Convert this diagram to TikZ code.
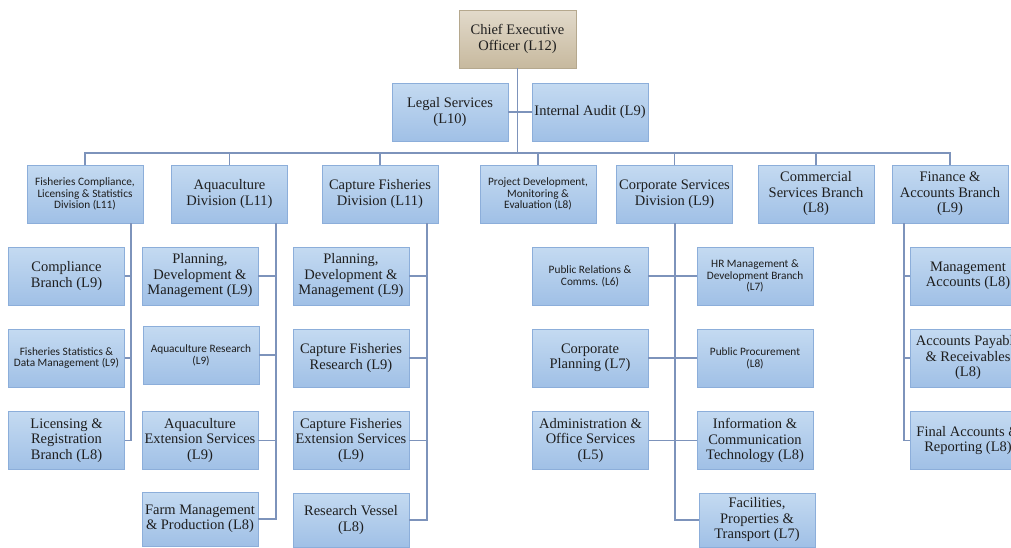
\documentclass[tikz,border=0pt]{standalone}
\usepackage{fontspec}
\setmainfont{Liberation Serif}
\newfontfamily\calfont{Carlito}
\definecolor{boxtop}{HTML}{C4DAF1}
\definecolor{boxbot}{HTML}{A0C0E6}
\definecolor{boxedge}{HTML}{8CAEDA}
\definecolor{ceotop}{HTML}{E2DACB}
\definecolor{ceobot}{HTML}{C7B99E}
\definecolor{ceoedge}{HTML}{B5A88E}
\definecolor{linkc}{HTML}{7D93BB}
\definecolor{ink}{HTML}{1E1E1E}
\begin{document}
\begin{tikzpicture}[x=1pt,y=-1pt,
  unit/.style={rectangle, draw=boxedge, line width=0.8pt, top color=boxtop,
    bottom color=boxbot, minimum width=116pt, minimum height=58pt,
    inner sep=1pt, align=center, text=ink,
    font=\fontsize{14.5}{15.5}\selectfont},
  small/.style={font=\calfont\fontsize{11.3}{11.8}\selectfont},
  lastrow/.style={minimum height=54pt},
  chief/.style={draw=ceoedge, top color=ceotop, bottom color=ceobot},
  link/.style={draw=linkc, line width=1.3pt}]
\useasboundingbox (0,0) rectangle (1011,547);
\clip (0,0) rectangle (1011,547);

% top of the chart
\node[unit, chief, minimum width=117pt] (ceo) at (517.5,39) {Chief Executive\\Officer (L12)};
\node[unit] (legal) at (450,112) {Legal Services\\(L10)};
\node[unit] (audit) at (590,112) {Internal Audit (L9)};

% divisions and branches
\node[unit, small] (fcl) at (85,194) {Fisheries Compliance,\\Licensing \& Statistics\\Division (L11)};
\node[unit] (aqua) at (229.5,194) {Aquaculture\\Division (L11)};
\node[unit] (cap) at (380,194) {Capture Fisheries\\Division (L11)};
\node[unit, small] (proj) at (538,194) {Project Development,\\Monitoring \&\\Evaluation (L8)};
\node[unit] (corp) at (674.5,194) {Corporate Services\\Division (L9)};
\node[unit] (comm) at (816,194) {Commercial\\Services Branch\\(L8)};
\node[unit] (fin) at (950,194) {Finance \&\\Accounts Branch\\(L9)};

% fisheries compliance units
\node[unit] (cbr) at (66.5,276) {Compliance\\Branch (L9)};
\node[unit, small] (fsd) at (66.5,358) {Fisheries Statistics \&\\Data Management (L9)};
\node[unit] (lrb) at (66.5,440.5) {Licensing \&\\Registration\\Branch (L8)};

% aquaculture units
\node[unit] (apdm) at (200,276) {Planning,\\Development \&\\Management (L9)};
\node[unit, small] (ares) at (201,355) {Aquaculture Research\\(L9)};
\node[unit] (aext) at (200,440.5) {Aquaculture\\Extension Services\\(L9)};
\node[unit, lastrow] (farm) at (200,519) {Farm Management\\\& Production (L8)};

% capture fisheries units
\node[unit] (cpdm) at (351,276) {Planning,\\Development \&\\Management (L9)};
\node[unit] (cres) at (351,358) {Capture Fisheries\\Research (L9)};
\node[unit] (cext) at (351,440.5) {Capture Fisheries\\Extension Services\\(L9)};
\node[unit, lastrow] (ves) at (351,520) {Research Vessel\\(L8)};

% corporate services units
\node[unit, small] (pr) at (590,276) {Public Relations \&\\Comms. (L6)};
\node[unit, small] (hr) at (755,276) {HR Management \&\\Development Branch\\(L7)};
\node[unit] (cpl) at (590,358) {Corporate\\Planning (L7)};
\node[unit, small] (pp) at (755,358) {Public Procurement\\(L8)};
\node[unit] (adm) at (590.5,440.5) {Administration \&\\Office Services\\(L5)};
\node[unit] (ict) at (755,440.5) {Information \&\\Communication\\Technology (L8)};
\node[unit, lastrow] (fac) at (757,520) {Facilities,\\Properties \&\\Transport (L7)};

% finance units
\node[unit] (ma) at (968,276) {Management\\Accounts (L8)};
\node[unit] (apr) at (968,358) {Accounts Payable\\\& Receivables\\(L8)};
\node[unit] (far) at (968,440.5) {Final Accounts \&\\Reporting (L8)};

% connectors
\coordinate (bus) at (517.5,153);
\draw[link] (ceo.south) -- (bus);
\draw[link] (legal.east) -- (audit.west);
\draw[link] (fcl.north) |- (bus) -| (fin.north);
\foreach \d in {aqua,cap,proj,corp,comm}
  \draw[link] (\d.north) -- (\d.north |- bus);

\draw[link] ([xshift=46pt]fcl.south) |- (lrb.east);
\draw[link] (cbr.east) -| ([xshift=46pt]fcl.south);
\draw[link] (fsd.east) -| ([xshift=46pt]fcl.south);

\draw[link] ([xshift=46.5pt]aqua.south) |- (farm.east);
\foreach \u in {apdm,ares,aext}
  \draw[link] (\u.east) -| ([xshift=46.5pt]aqua.south);

\draw[link] ([xshift=47pt]cap.south) |- (ves.east);
\foreach \u in {cpdm,cres,cext}
  \draw[link] (\u.east) -| ([xshift=47pt]cap.south);

\draw[link] ([xshift=0.5pt]corp.south) |- (fac.west);
\draw[link] (pr.east) -- (hr.west);
\draw[link] (cpl.east) -- (pp.west);
\draw[link] (adm.east) -- (ict.west);

\draw[link] ([xshift=-46pt]fin.south) |- (far.west);
\foreach \u in {ma,apr}
  \draw[link] (\u.west) -| ([xshift=-46pt]fin.south);
\end{tikzpicture}
\end{document}
